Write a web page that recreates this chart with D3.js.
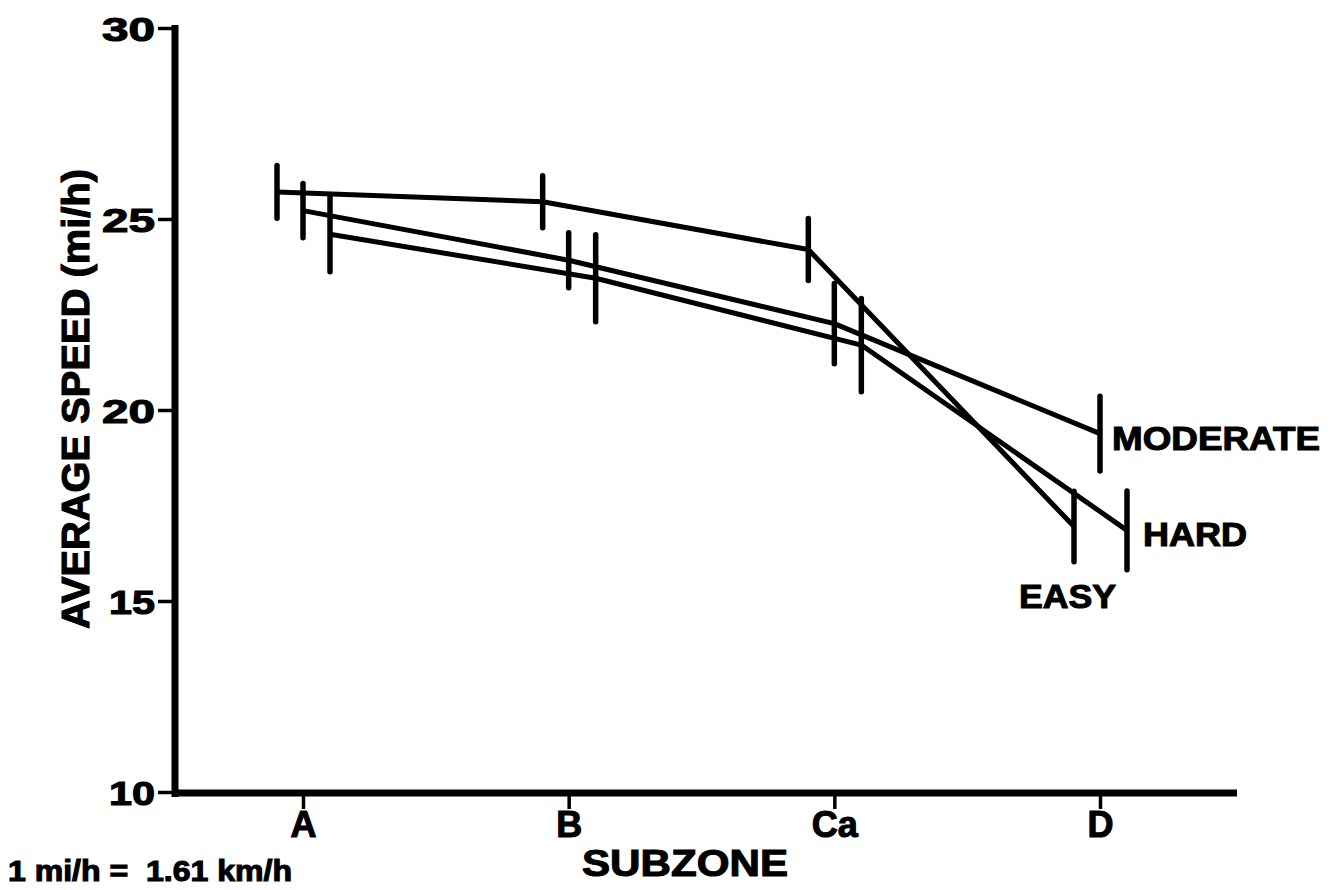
<!DOCTYPE html>
<html>
<head>
<meta charset="utf-8">
<script src="https://cdn.jsdelivr.net/npm/d3@7/dist/d3.min.js"></script>
<style>
  html, body { margin: 0; padding: 0; background: #fff; }
  svg { display: block; }
  text { font-family: "Liberation Sans", Arial, Helvetica, sans-serif; font-weight: bold; fill: #000; stroke: #000; stroke-width: 1.1px; }
</style>
</head>
<body>
<svg id="chart" width="1331" height="890"></svg>
<script>
// Subzones along the x axis and y tick values (mi/h)
const subzones = ["A", "B", "Ca", "D"];
const yTicks = [10, 15, 20, 25, 30];

// Average speed (mi/h) by subzone and the half-length of each error bar
const easyMean = [25.71, 25.45, 24.20, 16.95];
const easyErr = [0.69, 0.68, 0.81, 0.92];
const moderateMean = [25.22, 23.92, 22.26, 19.38];
const moderateErr = [0.71, 0.72, 1.05, 0.98];
const hardMean = [24.60, 23.45, 21.70, 16.85];
const hardErr = [0.98, 1.14, 1.22, 1.03];
const seriesNames = ["EASY", "MODERATE", "HARD"];

// Series table built from the arrays above
const series = [
  { name: seriesNames[0], mean: easyMean, err: easyErr },
  { name: seriesNames[1], mean: moderateMean, err: moderateErr },
  { name: seriesNames[2], mean: hardMean, err: hardErr }
];

// Layout: horizontal nudge of each series so the error bars do not overlap,
// and placement of the end-of-line labels relative to the last point
const layout = {
  EASY:     { dx: -26, labelDx: -55, labelDy: 81,  labelLen: 97 },
  MODERATE: { dx: 0,   labelDx: 12,  labelDy: 16,  labelLen: 208 },
  HARD:     { dx: 27,  labelDx: 16,  labelDy: 16,  labelLen: 104 }
};

const svg = d3.select("#chart");

const x = d3.scalePoint().domain(subzones).range([303, 1100]);
const y = d3.scaleLinear().domain([10, 30]).range([792, 28]);

// Y axis: ticks and labels from d3.axisLeft, heavy spine drawn separately
const yAxis = svg.append("g")
  .attr("transform", "translate(173,0)")
  .call(d3.axisLeft(y).tickValues(yTicks).tickSize(15).tickPadding(3).tickFormat(d3.format("d")));
yAxis.select(".domain").remove();
yAxis.selectAll(".tick line").attr("stroke", "#000").attr("stroke-width", 3.5);
yAxis.selectAll(".tick text")
  .attr("font-size", 34)
  .attr("dy", "0.36em")
  .attr("textLength", d => String(d).startsWith("1") ? 46 : 53)
  .attr("lengthAdjust", "spacingAndGlyphs")
  .style("font-family", "'Liberation Sans', Arial, sans-serif")
  .style("font-weight", "bold")
  .attr("fill", "#000");

// X axis
const xAxis = svg.append("g")
  .attr("transform", "translate(0,795)")
  .call(d3.axisBottom(x).tickSize(14).tickPadding(4));
xAxis.select(".domain").remove();
xAxis.selectAll(".tick line").attr("stroke", "#000").attr("stroke-width", 3.5);
xAxis.selectAll(".tick text")
  .attr("font-size", 36)
  .attr("dy", "0.71em")
  .attr("y", 16)
  .style("font-family", "'Liberation Sans', Arial, sans-serif")
  .style("font-weight", "bold")
  .attr("fill", "#000");

// Heavy axis spines
svg.append("line")
  .attr("x1", 175).attr("x2", 175)
  .attr("y1", y(30) - 3).attr("y2", y(10) + 5)
  .attr("stroke", "#000").attr("stroke-width", 7);
svg.append("line")
  .attr("x1", 172).attr("x2", 1237)
  .attr("y1", y(10) + 1).attr("y2", y(10) + 1)
  .attr("stroke", "#000").attr("stroke-width", 7);

// Series lines
const line = d3.line()
  .x((d, i) => x(subzones[i]) + d.dx)
  .y(d => y(d.v));

series.forEach(s => {
  const L = layout[s.name];
  const pts = s.mean.map(v => ({ v, dx: L.dx }));
  svg.append("path")
    .attr("d", line(pts))
    .attr("fill", "none")
    .attr("stroke", "#000")
    .attr("stroke-width", 5)
    .attr("stroke-linejoin", "round");

  // Error bars
  svg.append("g").selectAll("line")
    .data(s.mean)
    .join("line")
    .attr("x1", (d, i) => x(subzones[i]) + L.dx)
    .attr("x2", (d, i) => x(subzones[i]) + L.dx)
    .attr("y1", (d, i) => y(d + s.err[i]))
    .attr("y2", (d, i) => y(d - s.err[i]))
    .attr("stroke", "#000")
    .attr("stroke-width", 5.5)
    .attr("stroke-linecap", "round");

  // End label
  const last = s.mean.length - 1;
  svg.append("text")
    .attr("x", x(subzones[last]) + L.dx + L.labelDx)
    .attr("y", y(s.mean[last]) + L.labelDy)
    .attr("font-size", 34)
    .attr("textLength", L.labelLen)
    .attr("lengthAdjust", "spacingAndGlyphs")
    .text(s.name);
});

// Axis titles
svg.append("text")
  .attr("x", 685).attr("y", 876)
  .attr("text-anchor", "middle")
  .attr("font-size", 37)
  .attr("textLength", 206)
  .attr("lengthAdjust", "spacingAndGlyphs")
  .text("SUBZONE");

svg.append("text")
  .attr("transform", "translate(89,399) rotate(-90)")
  .attr("text-anchor", "middle")
  .attr("font-size", 38)
  .attr("textLength", 460)
  .attr("lengthAdjust", "spacingAndGlyphs")
  .text("AVERAGE SPEED (mi/h)");

// Unit conversion note
svg.append("text")
  .attr("x", 8).attr("y", 881)
  .attr("font-size", 29)
  .attr("textLength", 284)
  .attr("lengthAdjust", "spacingAndGlyphs")
  .style("white-space", "pre")
  .attr("xml:space", "preserve")
  .text("1 mi/h =  1.61 km/h");
</script>
</body>
</html>
